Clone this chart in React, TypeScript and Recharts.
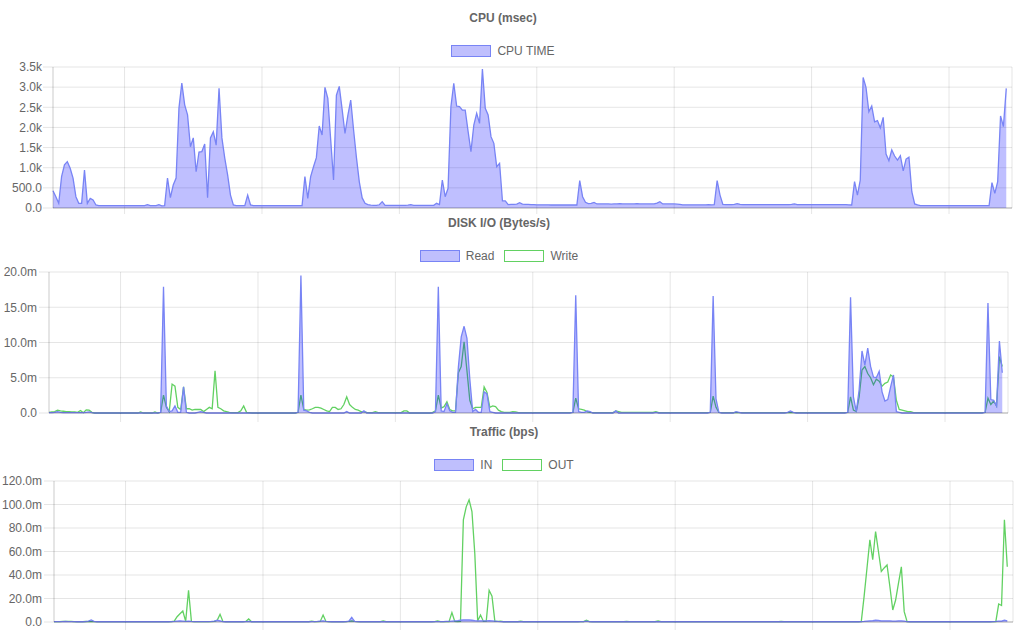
import React from 'react';
import { AreaChart, Area, XAxis, YAxis, CartesianGrid } from 'recharts';

// ---------- DATA (one sample per time step, index 0..333) ----------
const cpuTime = [
  430, 280, 117, 780, 1070, 1150, 985, 740, 280, 117,
  117, 940, 117, 240, 200, 75, 60, 58, 58, 58,
  58, 58, 58, 58, 58, 58, 58, 58, 58, 58,
  58, 58, 60, 85, 60, 58, 60, 85, 55, 60,
  745, 255, 570, 745, 2480, 3100, 2560, 2310, 1520, 1740,
  900, 1390, 1400, 1590, 255, 1740, 1890, 1560, 2970, 1740,
  1240, 820, 320, 75, 60, 60, 60, 60, 320, 75,
  60, 60, 60, 60, 60, 60, 60, 60, 60, 60,
  60, 60, 60, 60, 60, 60, 60, 60, 780, 240,
  780, 1025, 1250, 2035, 1810, 2995, 2720, 1700, 695, 2800,
  3020, 2450, 1850, 2300, 2680, 1935, 1250, 650, 250, 117,
  85, 70, 65, 65, 80, 157, 65, 65, 65, 65,
  65, 65, 65, 65, 70, 85, 65, 65, 65, 65,
  65, 65, 65, 65, 117, 85, 695, 280, 490, 2515,
  3095, 2530, 2515, 2430, 2430, 1900, 1400, 2060, 2350, 2100,
  3450, 2475, 2310, 1770, 1605, 1025, 1110, 175, 175, 85,
  90, 90, 95, 130, 95, 90, 90, 85, 85, 80,
  80, 80, 80, 80, 75, 75, 75, 75, 75, 75,
  75, 75, 75, 75, 680, 280, 140, 110, 117, 140,
  100, 100, 100, 100, 100, 95, 100, 100, 110, 100,
  100, 100, 100, 100, 110, 100, 100, 100, 100, 100,
  100, 120, 157, 100, 100, 100, 100, 100, 95, 90,
  80, 80, 80, 80, 80, 80, 80, 80, 80, 85,
  80, 85, 680, 320, 90, 85, 85, 85, 90, 110,
  90, 85, 85, 85, 85, 85, 85, 85, 85, 85,
  85, 85, 85, 85, 85, 85, 85, 85, 90, 100,
  85, 85, 85, 85, 85, 85, 85, 85, 85, 85,
  85, 85, 85, 85, 85, 85, 85, 85, 80, 75,
  655, 320, 695, 3240, 2995, 2390, 2530, 2140, 2170, 1990,
  2250, 1340, 1175, 1440, 1290, 1190, 1300, 920, 1215, 1260,
  405, 100, 75, 60, 57, 57, 57, 57, 57, 57,
  57, 57, 57, 57, 57, 57, 57, 57, 57, 57,
  57, 57, 57, 57, 57, 57, 57, 57, 630, 365,
  655, 2285, 2020, 2970,
];

// Disk I/O in millions of bytes/s
const diskRead = [
  0.05, 0.05, 0.1, 0.2, 0.1, 0.05, 0.05, 0.05, 0.05, 0.05,
  0.05, 0.05, 0.05, 0.1, 0.15, 0.05, 0, 0, 0, 0,
  0, 0, 0, 0, 0, 0, 0, 0, 0, 0,
  0, 0, 0, 0, 0, 0, 0, 0, 0, 0.1,
  17.9, 1.0, 0.2, 0.3, 1.0, 0.1, 0.1, 3.7, 0.1, 0,
  0, 0, 0.1, 0.2, 0.1, 0, 0, 0, 0, 0,
  0, 0, 0, 0, 0, 0, 0, 0, 0, 0,
  0, 0, 0, 0, 0, 0, 0, 0, 0, 0,
  0, 0, 0, 0, 0, 0, 0, 0.1, 19.5, 0.4,
  0.3, 0.1, 0, 0, 0, 0, 0, 0, 0, 0,
  0, 0, 0, 0, 0.2, 0, 0, 0, 0, 0,
  0.3, 0, 0, 0, 0, 0, 0, 0, 0, 0,
  0, 0, 0, 0, 0, 0, 0, 0, 0, 0,
  0, 0, 0, 0, 0, 0.2, 17.9, 0.3, 0.2, 1.3,
  0.3, 0.1, 0.1, 6.5, 10.8, 12.3, 10.6, 4.8, 0.2, 0.5,
  0.1, 0.1, 3.0, 2.7, 0.2, 0.1, 0, 0, 0, 0,
  0, 0, 0, 0, 0, 0, 0, 0, 0, 0,
  0, 0, 0, 0, 0, 0, 0, 0, 0, 0,
  0, 0, 0, 0.1, 16.7, 0.2, 0.1, 0.1, 0.3, 0.2,
  0, 0, 0, 0, 0, 0, 0, 0, 0.3, 0,
  0, 0, 0, 0, 0, 0, 0, 0, 0, 0,
  0, 0, 0.1, 0, 0, 0, 0, 0, 0, 0,
  0, 0, 0, 0, 0, 0, 0, 0, 0, 0,
  0, 0.1, 16.6, 2.0, 0.1, 0, 0, 0, 0, 0,
  0.2, 0.1, 0, 0, 0, 0, 0, 0, 0, 0,
  0, 0, 0, 0, 0, 0, 0, 0, 0.1, 0.3,
  0.1, 0, 0, 0, 0, 0, 0, 0, 0, 0,
  0, 0, 0, 0, 0, 0, 0, 0, 0, 0.1,
  16.4, 2.3, 0.2, 3.3, 8.8, 6.8, 9.2, 6.6, 5.1, 5.0,
  5.9, 3.0, 1.7, 1.9, 3.7, 5.4, 0.2, 0.1, 0, 0,
  0, 0, 0, 0, 0, 0, 0, 0, 0, 0,
  0, 0, 0, 0, 0, 0, 0, 0, 0, 0,
  0, 0, 0, 0, 0, 0, 0, 0.1, 15.6, 1.9,
  1.8, 1.0, 10.2, 5.7,
];

const diskWrite = [
  0.1, 0.15, 0.2, 0.4, 0.3, 0.25, 0.2, 0.2, 0.15, 0.15,
  0.1, 0.35, 0.05, 0.45, 0.4, 0.1, 0, 0, 0, 0,
  0, 0, 0, 0, 0, 0, 0, 0, 0, 0,
  0, 0, 0.15, 0, 0, 0, 0, 0.15, 0, 0.1,
  2.55, 0.8, 0.2, 4.1, 3.8, 0.8, 0.5, 3.7, 0.6, 0.6,
  0.4, 0.5, 0.5, 0.5, 0.2, 0.5, 0.8, 0.6, 6.0, 0.8,
  0.6, 0.3, 0.2, 0.1, 0.05, 0.05, 0.05, 0.3, 1.0, 0.1,
  0.05, 0, 0, 0, 0, 0, 0, 0, 0, 0,
  0, 0, 0, 0, 0, 0, 0, 0.1, 2.55, 0.5,
  0.4, 0.45, 0.6, 0.8, 0.8, 0.7, 0.5, 0.3, 0.2, 0.8,
  0.8, 0.5, 0.6, 1.2, 2.3, 1.2, 0.8, 0.5, 0.4, 0.2,
  0.2, 0.1, 0.05, 0.05, 0.2, 0.05, 0.05, 0.05, 0.05, 0.05,
  0.05, 0.05, 0.05, 0.05, 0.3, 0.3, 0, 0, 0, 0,
  0, 0, 0, 0, 0.1, 0.3, 2.55, 0.7, 0.9, 1.6,
  0.5, 0.3, 0.3, 5.7, 6.6, 10.1, 6.0, 1.8, 0.6, 0.8,
  0.8, 0.8, 3.7, 2.9, 0.8, 1.0, 0.9, 0.4, 0.2, 0.1,
  0.1, 0.1, 0.2, 0.15, 0.05, 0.05, 0.05, 0.05, 0.05, 0.05,
  0.05, 0.05, 0.05, 0.05, 0.05, 0.05, 0.05, 0.05, 0.05, 0.05,
  0.05, 0.05, 0.05, 0.1, 2.1, 0.6, 0.5, 0.4, 0.2, 0.1,
  0.05, 0.05, 0.05, 0.05, 0.05, 0.05, 0.05, 0.05, 0.3, 0.2,
  0.1, 0.1, 0.1, 0.1, 0.1, 0.1, 0.1, 0.1, 0.1, 0.1,
  0.1, 0.1, 0.2, 0.05, 0.05, 0.05, 0.05, 0.05, 0.05, 0.05,
  0.05, 0.05, 0.05, 0.05, 0.05, 0.05, 0.05, 0.05, 0.05, 0.05,
  0.05, 0.1, 2.4, 0.8, 0.1, 0.05, 0.05, 0.05, 0.05, 0.05,
  0.1, 0.05, 0.05, 0.05, 0.05, 0.05, 0.05, 0.05, 0.05, 0.05,
  0.05, 0.05, 0.05, 0.05, 0.05, 0.05, 0.05, 0.05, 0.05, 0.1,
  0.05, 0.05, 0.05, 0.05, 0.05, 0.05, 0.05, 0.05, 0.05, 0.05,
  0.05, 0.05, 0.05, 0.05, 0.05, 0.05, 0.05, 0.05, 0.05, 0.1,
  2.3, 0.4, 0.2, 2.3, 6.1, 6.6, 5.6, 5.0, 4.0, 4.8,
  4.5, 3.8, 4.2, 4.4, 5.4, 5.1, 1.8, 0.5, 0.4, 0.3,
  0.2, 0.2, 0.05, 0.05, 0.05, 0.05, 0.05, 0.05, 0.05, 0.05,
  0.05, 0.05, 0.05, 0.05, 0.05, 0.05, 0.05, 0.05, 0.05, 0.05,
  0.05, 0.05, 0.05, 0.05, 0.05, 0.05, 0.05, 0.1, 2.1, 1.2,
  1.7, 1.0, 8.0, 6.6,
];

// Traffic in millions of bits/s
const trafficIn = [
  0.3, 0.3, 0.3, 0.3, 0.5, 0.4, 0.3, 0.3, 0.2, 0.2,
  0.2, 0.3, 0.8, 1.7, 0.5, 0.2, 0.2, 0.2, 0.2, 0.2,
  0.2, 0.2, 0.2, 0.2, 0.2, 0.2, 0.2, 0.2, 0.2, 0.2,
  0.2, 0.2, 0.2, 0.2, 0.2, 0.2, 0.2, 0.2, 0.2, 0.2,
  0.2, 0.3, 0.5, 0.8, 1.0, 0.8, 0.5, 0.8, 0.5, 0.3,
  0.3, 0.3, 0.3, 0.3, 0.3, 0.5, 0.8, 1.5, 1.0, 0.4,
  0.2, 0.2, 0.2, 0.2, 0.2, 0.2, 0.2, 0.3, 0.5, 0.2,
  0.2, 0.2, 0.2, 0.2, 0.2, 0.2, 0.2, 0.2, 0.2, 0.2,
  0.2, 0.2, 0.2, 0.2, 0.2, 0.2, 0.2, 0.2, 0.2, 0.2,
  0.3, 0.3, 0.5, 0.8, 1.0, 0.5, 0.3, 0.2, 0.2, 0.2,
  0.2, 0.2, 0.3, 0.8, 4.0, 0.5, 0.3, 0.2, 0.2, 0.2,
  0.2, 0.2, 0.2, 0.2, 0.2, 0.2, 0.2, 0.2, 0.2, 0.2,
  0.2, 0.2, 0.2, 0.2, 0.2, 0.2, 0.2, 0.2, 0.2, 0.2,
  0.2, 0.2, 0.2, 0.3, 0.4, 0.3, 0.3, 0.5, 0.5, 0.8,
  1.0, 1.2, 1.5, 1.7, 1.7, 1.7, 1.5, 1.2, 1.0, 1.0,
  1.0, 1.0, 1.2, 1.0, 0.8, 0.5, 0.3, 0.2, 0.2, 0.2,
  0.2, 0.2, 0.2, 0.2, 0.2, 0.2, 0.2, 0.2, 0.2, 0.2,
  0.2, 0.2, 0.2, 0.2, 0.2, 0.2, 0.2, 0.2, 0.2, 0.2,
  0.2, 0.2, 0.2, 0.2, 0.3, 0.3, 0.8, 0.3, 0.2, 0.2,
  0.2, 0.2, 0.2, 0.2, 0.2, 0.2, 0.2, 0.2, 0.2, 0.2,
  0.2, 0.2, 0.2, 0.2, 0.2, 0.2, 0.2, 0.2, 0.2, 0.2,
  0.2, 0.4, 0.2, 0.2, 0.2, 0.2, 0.2, 0.2, 0.2, 0.2,
  0.2, 0.2, 0.2, 0.2, 0.2, 0.2, 0.2, 0.2, 0.2, 0.2,
  0.2, 0.2, 0.2, 0.2, 0.2, 0.2, 0.2, 0.2, 0.2, 0.2,
  0.2, 0.2, 0.2, 0.2, 0.2, 0.2, 0.2, 0.2, 0.2, 0.2,
  0.2, 0.2, 0.2, 0.2, 0.2, 0.2, 0.2, 0.2, 0.2, 0.2,
  0.2, 0.2, 0.2, 0.2, 0.2, 0.2, 0.2, 0.2, 0.2, 0.2,
  0.2, 0.2, 0.2, 0.2, 0.2, 0.2, 0.2, 0.2, 0.2, 0.2,
  0.2, 0.2, 0.3, 0.5, 0.8, 1.0, 1.2, 1.5, 1.3, 1.0,
  1.0, 1.0, 1.0, 0.8, 0.8, 1.0, 1.0, 0.8, 0.3, 0.2,
  0.2, 0.2, 0.2, 0.2, 0.2, 0.2, 0.2, 0.2, 0.2, 0.2,
  0.2, 0.2, 0.2, 0.2, 0.2, 0.2, 0.2, 0.2, 0.2, 0.2,
  0.2, 0.2, 0.2, 0.2, 0.2, 0.2, 0.2, 0.2, 0.3, 0.5,
  0.8, 0.8, 1.5, 1.0,
];

const trafficOut = [
  0.3, 0.3, 0.3, 0.5, 0.6, 0.5, 0.6, 0.4, 0.3, 0.3,
  0.4, 0.5, 0.3, 0.3, 0.3, 0.3, 0.3, 0.3, 0.3, 0.3,
  0.3, 0.3, 0.3, 0.3, 0.3, 0.3, 0.3, 0.3, 0.3, 0.3,
  0.3, 0.3, 0.3, 0.3, 0.3, 0.3, 0.3, 0.3, 0.3, 0.3,
  0.3, 0.3, 0.8, 4.5, 7.0, 9.4, 0.5, 27, 0.5, 0.3,
  0.3, 0.3, 0.3, 0.3, 0.3, 0.4, 0.6, 1.5, 6.5, 0.5,
  0.3, 0.3, 0.3, 0.3, 0.3, 0.3, 0.3, 0.5, 2.6, 0.3,
  0.3, 0.3, 0.3, 0.3, 0.3, 0.3, 0.3, 0.3, 0.3, 0.3,
  0.3, 0.3, 0.3, 0.3, 0.3, 0.3, 0.3, 0.3, 0.3, 0.3,
  0.8, 0.3, 0.3, 0.5, 5.9, 0.5, 0.4, 0.3, 0.3, 0.3,
  0.3, 0.3, 0.3, 0.5, 1.0, 0.5, 0.3, 0.3, 0.3, 0.3,
  0.3, 0.3, 0.3, 0.3, 0.3, 1.0, 0.3, 0.3, 0.3, 0.3,
  0.3, 0.3, 0.3, 0.3, 0.3, 0.3, 0.3, 0.3, 0.3, 0.3,
  0.3, 0.3, 0.3, 0.3, 1.0, 0.3, 0.3, 0.3, 0.3, 8.0,
  0.5, 0.3, 0.5, 87, 98, 104, 94, 58, 0.8, 6.0,
  0.5, 0.8, 27, 22, 0.5, 0.5, 0.8, 0.4, 0.3, 0.3,
  0.3, 0.3, 0.3, 0.8, 0.3, 0.3, 0.3, 0.3, 0.3, 0.3,
  0.3, 0.3, 0.3, 0.3, 0.3, 0.3, 0.3, 0.3, 0.3, 0.3,
  0.3, 0.3, 0.3, 0.3, 0.3, 0.3, 1.5, 0.3, 0.3, 0.3,
  0.3, 0.3, 0.3, 0.3, 0.3, 0.3, 0.3, 0.3, 0.3, 0.3,
  0.5, 0.3, 0.3, 0.3, 0.3, 0.3, 0.3, 0.3, 0.3, 0.3,
  0.3, 1.0, 0.3, 0.3, 0.3, 0.3, 0.3, 0.3, 0.3, 0.3,
  0.3, 0.3, 0.3, 0.3, 0.3, 0.3, 0.3, 0.3, 0.3, 0.3,
  0.3, 0.3, 0.3, 0.3, 0.3, 0.3, 0.3, 0.3, 0.3, 0.3,
  0.3, 0.3, 0.3, 0.3, 0.3, 0.3, 0.3, 0.3, 0.3, 0.3,
  0.3, 0.3, 0.3, 0.3, 0.5, 0.3, 0.3, 0.3, 0.3, 0.3,
  0.3, 0.3, 0.3, 0.3, 0.3, 0.3, 0.3, 0.3, 0.3, 0.3,
  0.3, 0.3, 0.3, 0.3, 0.3, 0.3, 0.3, 0.3, 0.3, 0.3,
  0.3, 0.3, 0.3, 22, 46, 70, 53, 77, 60, 43,
  46, 48.5, 30, 10.2, 18.7, 33, 47, 8.8, 0.3, 0.3,
  0.3, 0.3, 0.3, 0.3, 0.3, 0.3, 0.3, 0.3, 0.3, 0.3,
  0.3, 0.3, 0.3, 0.3, 0.3, 0.3, 0.3, 0.3, 0.3, 0.3,
  0.3, 0.3, 0.3, 0.3, 0.3, 0.3, 0.3, 0.3, 0.3, 0.3,
  15.3, 14, 87, 47,
];

// ---------- AXES ----------
const xDomain = [0, 335];
const xTicks = [25, 73, 121, 169, 217, 265, 313];
const cpuTicks = [0, 500, 1000, 1500, 2000, 2500, 3000, 3500];
const diskTicks = [0, 5, 10, 15, 20];
const trafficTicks = [0, 20, 40, 60, 80, 100, 120];

const titles = ['CPU (msec)', 'DISK I/O (Bytes/s)', 'Traffic (bps)'];
const cpuLabels = ['CPU TIME'];
const diskLabels = ['Read', 'Write'];
const trafficLabels = ['IN', 'OUT'];

// ---------- STYLE ----------
const FONT = "'Liberation Sans', Arial, Helvetica, sans-serif";
const GRID = 'rgba(0,0,0,0.1)';
const AXIS = 'rgba(0,0,0,0.25)';
const BLUE = '#7884f5';
const BLUE_FILL = 'rgb(0,0,255)';
const BLUE_FILL_OP = 0.25;
const GREEN = '#62d162';

const fmtK = (v: number) => (v >= 1000 ? (v / 1000).toFixed(1) + 'k' : v.toFixed(1));
const fmtM = (v: number) => (v === 0 ? '0.0' : v.toFixed(1) + 'm');

const cpuData = cpuTime.map((v, i) => ({ i, cpu: v }));
const diskData = diskRead.map((v, i) => ({ i, read: v, write: diskWrite[i] }));
const trafficData = trafficIn.map((v, i) => ({ i, inb: v, outb: trafficOut[i] }));

type LegendItem = { label: string; stroke: string; fill: string };

function LegendRow({ items }: { items: LegendItem[] }) {
  return (
    <div
      style={{
        position: 'absolute',
        top: 45,
        left: 0,
        width: 1006,
        height: 12,
        display: 'flex',
        justifyContent: 'center',
        alignItems: 'center',
        fontFamily: FONT,
        fontSize: 12,
        color: '#666',
      }}
    >
      {items.map((it, k) => (
        <div key={k} style={{ display: 'flex', alignItems: 'center', marginLeft: k === 0 ? 0 : 10 }}>
          <div
            style={{
              width: 40,
              height: 12,
              boxSizing: 'border-box',
              border: `1px solid ${it.stroke}`,
              background: it.fill,
            }}
          />
          <span style={{ marginLeft: 6, lineHeight: '12px', whiteSpace: 'nowrap' }}>{it.label}</span>
        </div>
      ))}
    </div>
  );
}

function Title({ text }: { text: string }) {
  return (
    <div
      style={{
        position: 'absolute',
        top: 10.5,
        left: 0,
        width: 1006,
        textAlign: 'center',
        fontFamily: FONT,
        fontWeight: 'bold',
        fontSize: 12,
        lineHeight: '14px',
        color: '#666',
      }}
    >
      {text}
    </div>
  );
}

const EmptyTick = () => <g />;

const W = 1013;

export default function App() {
  const yTick = { fill: '#666', fontSize: 12, fontFamily: FONT };
  const blueLegend = { stroke: BLUE, fill: '#bfbffd' };
  const greenLegend = { stroke: GREEN, fill: '#ffffff' };

  const panels = [
    { top: 0, left: 0, height: 220, xh: 6, tm: 1 },
    { top: 205, left: -4, height: 220, xh: 9, tm: 2 },
    { top: 414, left: 1, height: 216, xh: 8, tm: 2 },
  ];

  const xAxis = (xh: number) => (
    <XAxis
      type="number"
      dataKey="i"
      domain={xDomain}
      ticks={xTicks}
      interval={0}
      height={xh}
      tickSize={xh}
      tick={EmptyTick}
      tickLine={{ stroke: GRID }}
      axisLine={{ stroke: AXIS }}
    />
  );

  const yAxis = (ticks: number[], fmt: (v: number) => string, tm: number) => (
    <YAxis
      type="number"
      domain={[ticks[0], ticks[ticks.length - 1]]}
      ticks={ticks}
      interval={0}
      width={53}
      tickSize={10}
      tickMargin={tm}
      tick={yTick}
      tickLine={{ stroke: GRID }}
      axisLine={{ stroke: GRID }}
      tickFormatter={fmt}
    />
  );

  const margin = (p: { height: number; xh: number }) => ({
    top: 67,
    right: 1,
    bottom: p.height - 208 - p.xh,
    left: 0,
  });

  return (
    <div
      style={{
        position: 'absolute',
        left: 0,
        top: 0,
        width: 1019,
        height: 630,
        overflow: 'hidden',
        background: '#fff',
      }}
    >
      {/* CPU */}
      <div style={{ position: 'absolute', top: panels[0].top, left: panels[0].left, width: W, height: panels[0].height }}>
        <AreaChart width={W} height={panels[0].height} data={cpuData} margin={margin(panels[0])}>
          <CartesianGrid stroke={GRID} vertical horizontal />
          {xAxis(panels[0].xh)}
          {yAxis(cpuTicks, fmtK, panels[0].tm)}
          <Area
            type="linear"
            dataKey="cpu"
            stroke={BLUE}
            strokeWidth={1.3}
            fill={BLUE_FILL}
            fillOpacity={BLUE_FILL_OP}
            dot={false}
            activeDot={false}
            isAnimationActive={false}
          />
        </AreaChart>
        <Title text={titles[0]} />
        <LegendRow items={[{ label: cpuLabels[0], ...blueLegend }]} />
      </div>

      {/* DISK */}
      <div style={{ position: 'absolute', top: panels[1].top, left: panels[1].left, width: W, height: panels[1].height }}>
        <AreaChart width={W} height={panels[1].height} data={diskData} margin={margin(panels[1])}>
          <CartesianGrid stroke={GRID} vertical horizontal />
          {xAxis(panels[1].xh)}
          {yAxis(diskTicks, fmtM, panels[1].tm)}
          <Area
            type="linear"
            dataKey="write"
            stroke={GREEN}
            strokeWidth={1.3}
            fill="none"
            dot={false}
            activeDot={false}
            isAnimationActive={false}
          />
          <Area
            type="linear"
            dataKey="read"
            stroke={BLUE}
            strokeWidth={1.3}
            fill={BLUE_FILL}
            fillOpacity={BLUE_FILL_OP}
            dot={false}
            activeDot={false}
            isAnimationActive={false}
          />
        </AreaChart>
        <Title text={titles[1]} />
        <LegendRow
          items={[
            { label: diskLabels[0], ...blueLegend },
            { label: diskLabels[1], ...greenLegend },
          ]}
        />
      </div>

      {/* Traffic */}
      <div style={{ position: 'absolute', top: panels[2].top, left: panels[2].left, width: W, height: panels[2].height }}>
        <AreaChart width={W} height={panels[2].height} data={trafficData} margin={margin(panels[2])}>
          <CartesianGrid stroke={GRID} vertical horizontal />
          {xAxis(panels[2].xh)}
          {yAxis(trafficTicks, fmtM, panels[2].tm)}
          <Area
            type="linear"
            dataKey="outb"
            stroke={GREEN}
            strokeWidth={1.3}
            fill="none"
            dot={false}
            activeDot={false}
            isAnimationActive={false}
          />
          <Area
            type="linear"
            dataKey="inb"
            stroke={BLUE}
            strokeWidth={1.3}
            fill={BLUE_FILL}
            fillOpacity={BLUE_FILL_OP}
            dot={false}
            activeDot={false}
            isAnimationActive={false}
          />
        </AreaChart>
        <Title text={titles[2]} />
        <LegendRow
          items={[
            { label: trafficLabels[0], ...blueLegend },
            { label: trafficLabels[1], ...greenLegend },
          ]}
        />
      </div>
    </div>
  );
}
